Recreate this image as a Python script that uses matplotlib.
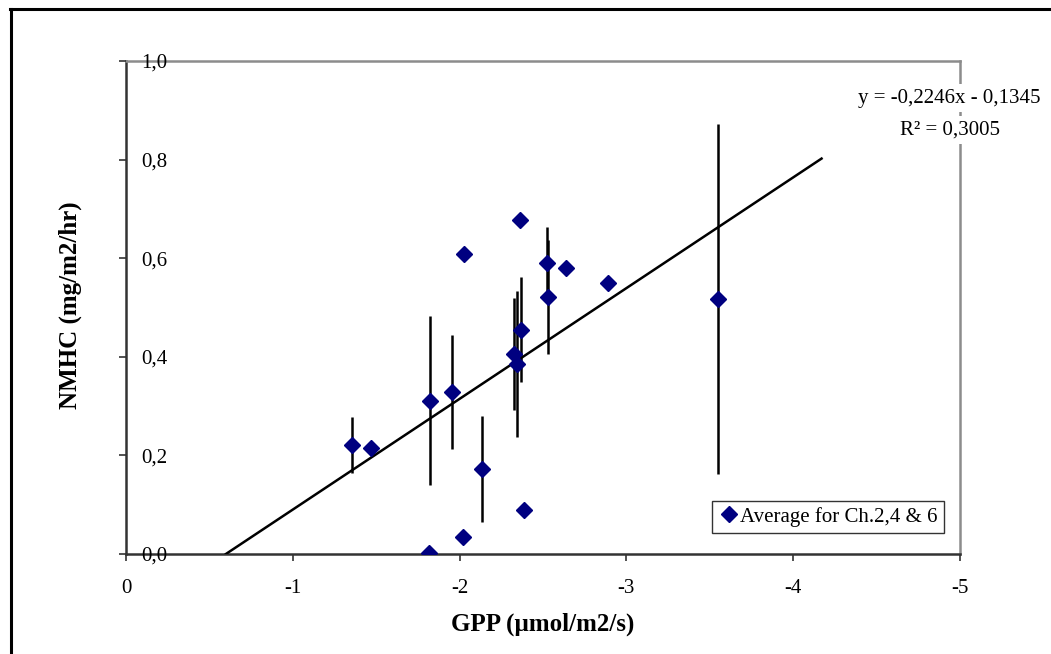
import numpy as np
import matplotlib
matplotlib.use("Agg")
import matplotlib.pyplot as plt
from matplotlib.lines import Line2D

plt.rcParams['font.family'] = ['Liberation Serif', 'DejaVu Serif']

# GPP (µmol/m2/s) and NMHC flux (mg/m2/hr), averaged over chambers 2, 4 and 6
gpp = [-1.355, -1.469, -1.823, -1.954, -2.026, -2.134, -1.817, -2.020, -2.326,
       -2.344, -2.362, -2.368, -2.386, -2.524, -2.530, -2.638, -2.890, -3.549]
nmhc = [0.221, 0.214, 0.311, 0.329, 0.608, 0.172, 0.002, 0.034, 0.406,
        0.386, 0.677, 0.455, 0.089, 0.591, 0.521, 0.580, 0.550, 0.517]
# standard deviation (nan = no error bar)
nmhc_sd = [0.056, np.nan, 0.172, 0.116, np.nan, 0.107, np.nan, np.nan, 0.114,
           0.148, np.nan, 0.106, np.nan, 0.072, 0.116, np.nan, np.nan, 0.355]

# linear fit
slope, intercept, r2 = -0.2246, -0.1345, 0.3005
fit_x = [-0.599, -4.17]
eq_text = 'y = -0,2246x - 0,1345'
r2_text = 'R² = 0,3005'

x_ticks = [0, -1, -2, -3, -4, -5]
x_labels = ['0', '-1', '-2', '-3', '-4', '-5']
y_ticks = [0.0, 0.2, 0.4, 0.6, 0.8, 1.0]
y_labels = ['0,0', '0,2', '0,4', '0,6', '0,8', '1,0']

W, H = 1051, 654
fig = plt.figure(figsize=(W / 100, H / 100), dpi=100)
ax = fig.add_axes([126 / W, (H - 554) / H, (960 - 126) / W, (554 - 61) / H])

navy = '#000080'
sd = np.array(nmhc_sd)
has_bar = ~np.isnan(sd)
ax.errorbar(np.array(gpp)[has_bar], np.array(nmhc)[has_bar], yerr=sd[has_bar],
            fmt='none', ecolor='black', elinewidth=1.8, capsize=0, zorder=2)

fx = np.array(fit_x)
ax.plot(fx, slope * fx + intercept, color='black', lw=1.8, zorder=3)

ax.plot(gpp, nmhc, linestyle='none', marker='D', markersize=8.5,
        color=navy, markeredgecolor=navy, zorder=4, label='Average for Ch.2,4 & 6')

ax.set_xlim(0, -5)
ax.set_ylim(0, 1.0)
ax.set_xticks(x_ticks)
ax.set_xticklabels(x_labels)
ax.set_yticks(y_ticks)
ax.set_yticklabels(y_labels)

ax.tick_params(axis='x', direction='out', length=5, width=1.2, labelsize=15,
               pad=13, color='#333333')
ax.tick_params(axis='y', direction='out', length=5, width=1.2, labelsize=15,
               pad=-16, color='#333333')
for lab in ax.get_yticklabels():
    lab.set_horizontalalignment('left')

for side in ('left', 'bottom'):
    ax.spines[side].set_color('#333333')
    ax.spines[side].set_linewidth(1.8)
for side in ('top', 'right'):
    ax.spines[side].set_color('#8c8c8c')
    ax.spines[side].set_linewidth(1.8)
for s in ax.spines.values():
    s.set_zorder(1)

ax.set_xlabel('GPP (µmol/m2/s)', fontsize=18, fontweight='bold')
ax.xaxis.set_label_coords(0.5, -0.118)
ax.set_ylabel('NMHC (mg/m2/hr)', fontsize=18, fontweight='bold')
ax.yaxis.set_label_coords(-0.053, 0.505)

leg = ax.legend(loc='lower right', bbox_to_anchor=(944 / W, (H - 533) / H),
                bbox_transform=fig.transFigure, fontsize=15, frameon=True,
                fancybox=False, handlelength=1.0, handletextpad=0.05,
                borderpad=0.3, borderaxespad=0, markerscale=1.0)
leg.get_frame().set_edgecolor('black')
leg.get_frame().set_linewidth(1.0)

white = dict(facecolor='white', edgecolor='none', pad=3)
fig.text(949 / W, 1 - 98 / H, eq_text, ha='center', va='center', fontsize=15, bbox=white)
fig.text(950 / W, 1 - 130 / H, r2_text, ha='center', va='center', fontsize=15, bbox=white)

# outer frame (left and top edges)
fig.add_artist(Line2D([11 / W, 11 / W], [0, 1 - 9 / H], transform=fig.transFigure,
                      color='black', lw=2.2))
fig.add_artist(Line2D([10 / W, 1], [1 - 9 / H, 1 - 9 / H], transform=fig.transFigure,
                      color='black', lw=2.2))

fig.savefig('out.png', dpi=100)
